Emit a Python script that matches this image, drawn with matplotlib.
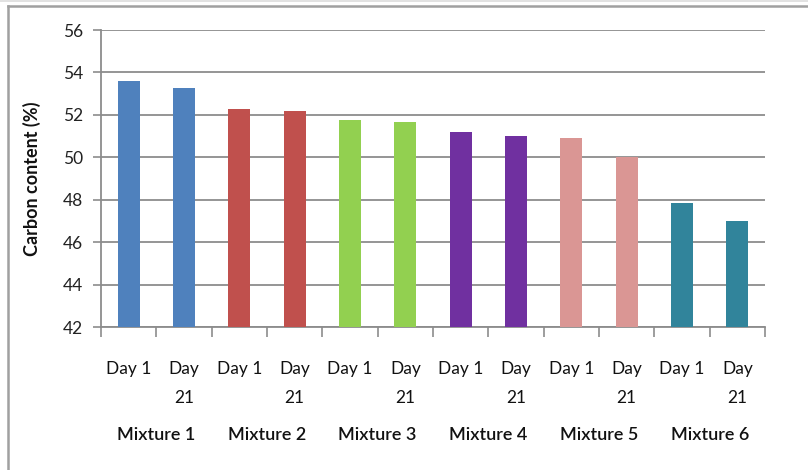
import matplotlib
matplotlib.use("Agg")
import matplotlib.pyplot as plt
from matplotlib.lines import Line2D
from matplotlib.transforms import blended_transform_factory

# Carbon content (%) of six mixtures, sampled on day 1 and day 21
mixtures = ["Mixture 1", "Mixture 2", "Mixture 3", "Mixture 4", "Mixture 5", "Mixture 6"]
days = ["Day 1", "Day\n21"]
day1 = [53.6, 52.27, 51.75, 51.18, 50.9, 47.85]
day21 = [53.26, 52.18, 51.66, 51.0, 50.02, 46.99]
colors = ["#4F81BD", "#C0504D", "#92D050", "#7030A0", "#DA9694", "#31849B"]
yticks = [42, 44, 46, 48, 50, 52, 54, 56]

W, H = 808, 470
plt.rcParams["font.family"] = ["Lato", "DejaVu Sans"]
fig = plt.figure(figsize=(W / 100, H / 100), dpi=100)
fig.patch.set_facecolor("white")

ax = fig.add_axes([101 / W, 1 - 327 / H, (765 - 101) / W, (327 - 30) / H])

values, bar_colors, labels = [], [], []
for m, (a, b) in enumerate(zip(day1, day21)):
    values += [a, b]
    bar_colors += [colors[m], colors[m]]
    labels += days

positions = [i + 0.5 for i in range(len(values))]
ax.bar(positions, [v - yticks[0] for v in values], bottom=yticks[0], width=0.4,
       color=bar_colors, zorder=3)

grid_c = "#8c8c8c"
ax.set_xlim(0, len(values))
ax.set_ylim(yticks[0], yticks[-1])
ax.set_yticks(yticks)
ax.yaxis.grid(True, color=grid_c, linewidth=1.3, zorder=0)
ax.set_xticks(range(len(values) + 1))
ax.set_xticklabels([])
ax.tick_params(axis="x", direction="out", length=7, width=1.2, color=grid_c)
ax.tick_params(axis="y", direction="out", length=6, width=1.2, color=grid_c,
               labelsize=12.5, pad=7, labelcolor="#222222")
for s in ["top", "right"]:
    ax.spines[s].set_visible(False)
for s in ["left", "bottom"]:
    ax.spines[s].set_color(grid_c)
    ax.spines[s].set_linewidth(1.3)

ax.set_ylabel("Carbon content (%)", fontsize=13, fontweight="bold", color="#111111")
ax.yaxis.set_label_coords(-(101 - 41) / (765 - 101), 0.5)

# Two-level category labels under the axis
tr = blended_transform_factory(ax.transData, fig.transFigure)
for x, lab in zip(positions, labels):
    for k, line in enumerate(lab.split("\n")):
        fig.text(x, 1 - (374 + 29 * k) / H, line, transform=tr, ha="center",
                 va="baseline", fontsize=12.5, color="#111111")
for m, name in enumerate(mixtures):
    fig.text(2 * m + 1, 1 - 440 / H, name, transform=tr, ha="center",
             va="baseline", fontsize=13, fontweight="semibold", color="#111111")

# Chart frame
fig.add_artist(Line2D([0, 1], [1 - 1.3 / H] * 2, transform=fig.transFigure,
                      color="#dddddd", linewidth=1.2))
fig.add_artist(Line2D([8 / W, 1], [1 - 6 / H] * 2, transform=fig.transFigure,
                      color="#a0a0a0", linewidth=1.8))
fig.add_artist(Line2D([8 / W, 8 / W], [0, 1 - 6 / H], transform=fig.transFigure,
                      color="#a0a0a0", linewidth=1.8))

fig.savefig("out.png", dpi=100, facecolor="white")
